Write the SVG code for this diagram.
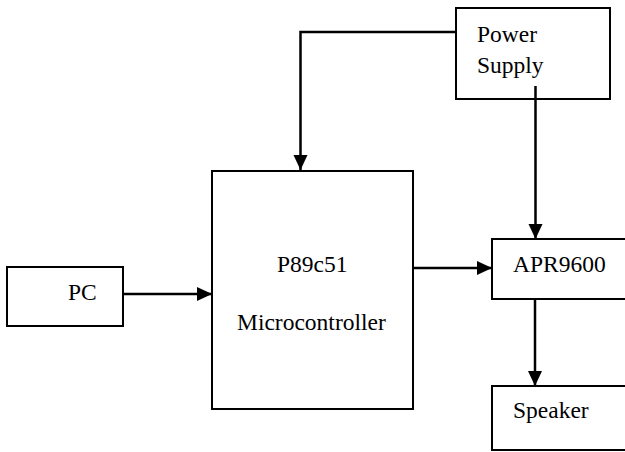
<svg xmlns="http://www.w3.org/2000/svg" width="625" height="452" viewBox="0 0 625 452">
<style>
.box{fill:#fff;stroke:#000;stroke-width:2}
text{font-family:'Liberation Serif','Times New Roman','DejaVu Serif',serif;font-size:23.5px;fill:#000}
.c{fill:none;stroke:#000;stroke-width:2.5}
</style>
<defs>
<marker id="ah" markerWidth="14" markerHeight="15" refX="15" refY="7" orient="auto" markerUnits="userSpaceOnUse">
<path d="M0,0 L15,7 L0,14 Z" fill="#000"/>
</marker>
</defs>
<rect width="625" height="452" fill="#fff"/>
<g id="power"><rect class="box" x="456" y="8" width="154" height="91"/><text x="477" y="42">Power</text><text x="477" y="73">Supply</text></g>
<g id="mcu"><rect class="box" x="212" y="171" width="201" height="238"/><text x="277" y="272">P89c51</text><text x="237" y="330">Microcontroller</text></g>
<g id="pc"><rect class="box" x="7" y="267" width="116" height="59"/><text x="68" y="300">PC</text></g>
<g id="apr"><rect class="box" x="492" y="239" width="140" height="60"/><text x="513" y="272">APR9600</text></g>
<g id="speaker"><rect class="box" x="492" y="386" width="140" height="64"/><text x="513" y="418">Speaker</text></g>
<g id="connectors">
<path class="c" d="M456,32 H300.5 V170" marker-end="url(#ah)"/>
<path class="c" d="M535.5,86 V239" marker-end="url(#ah)"/>
<path class="c" d="M123,294 H212" marker-end="url(#ah)"/>
<path class="c" d="M413,268 H492" marker-end="url(#ah)"/>
<path class="c" d="M535,299 V386" marker-end="url(#ah)"/>
</g>
</svg>
